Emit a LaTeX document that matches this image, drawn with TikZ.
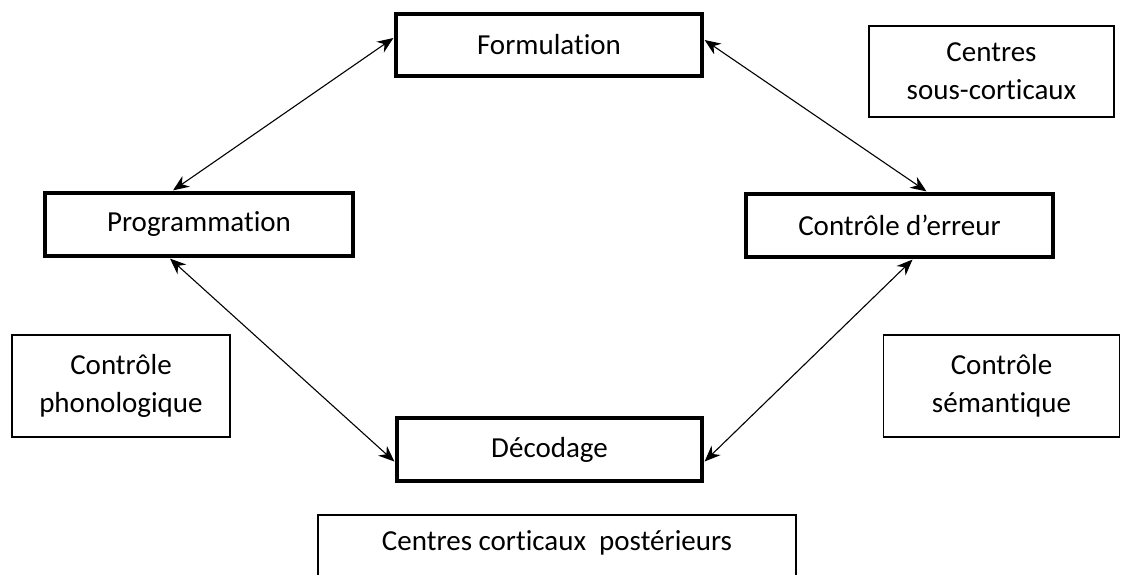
\documentclass[tikz,border=0pt]{standalone}
\usepackage{fontspec}
\setmainfont{Carlito}[Ligatures=NoCommon]
\usetikzlibrary{arrows.meta,calc}
\begin{document}
\begin{tikzpicture}[x=1pt,y=-1pt,
  thickbox/.style={draw=black,line width=3.2pt,fill=white,inner sep=0pt,align=center,
    font=\fontsize{29}{38}\selectfont},
  thinbox/.style={draw=black,line width=1.1pt,fill=white,inner sep=0pt,align=center,
    font=\fontsize{29}{38}\selectfont},
  link/.style={line width=1.1pt,{Stealth[length=16pt,width=13pt]}-{Stealth[length=16pt,width=13pt]}}]
\useasboundingbox (0,0) rectangle (1121,574);
\fill[white] (0,0) rectangle (1121,574);

\node[thickbox,minimum width=306pt,minimum height=62pt] (form) at (549,45) {Formulation};
\node[thickbox,minimum width=308pt,minimum height=63pt] (prog) at (199,224.5) {Programmation};
\node[thickbox,minimum width=307pt,minimum height=63pt] (err) at (899.5,225.5) {Contrôle d’erreur};
\node[thickbox,minimum width=305pt,minimum height=63pt] (dec) at (549.5,449.5) {Décodage};

\node[thinbox,minimum width=245pt,minimum height=91pt] (sous) at (991.5,71.5) {Centres\\sous-corticaux};
\node[thinbox,minimum width=218pt,minimum height=102pt] (phon) at (121,386) {Contrôle\\phonologique};
\node[thinbox,minimum width=236pt,minimum height=102pt] (sem) at (1001.5,386) {Contrôle\\sémantique};

\begin{scope}
\clip (0,0) rectangle (1121,574);
\draw[line width=1.1pt] (318,600) -- (318,515) -- (796,515) -- (796,600);
\end{scope}
\node[font=\fontsize{29}{38}\selectfont,inner sep=0pt] (post) at (557,543) {Centres corticaux\ \ postérieurs};

\draw[link] ($(form.west)+(-1,-7)$) -- ($(prog.north)+(-26,-1)$);
\draw[link] ($(form.east)+(1,-5)$) -- ($(err.north)+(27,-1)$);
\draw[link] ($(prog.south)+(-29,1)$) -- ($(dec.west)+(-1,12)$);
\draw[link] ($(err.south)+(13,1)$) -- ($(dec.east)+(1,12)$);
\end{tikzpicture}
\end{document}
